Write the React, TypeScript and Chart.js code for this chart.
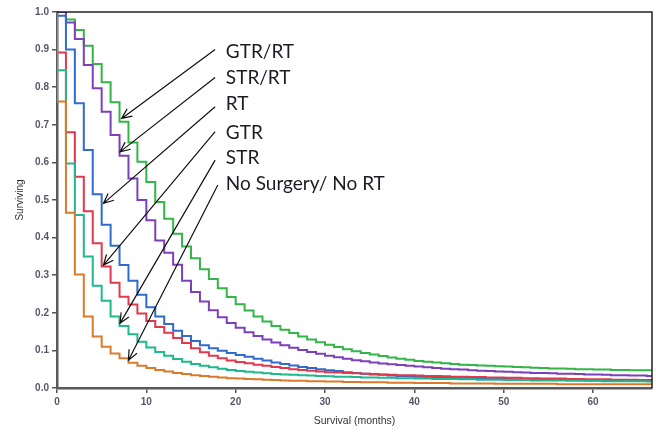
import React, { useEffect, useRef } from "react";
import { Chart, registerables } from "chart.js";
Chart.register(...registerables);

// Survival probability held during each month interval [m, m+1), m = 0..67
const gtrRt = [1.0, 0.98, 0.952, 0.91, 0.862, 0.813, 0.76, 0.708, 0.653, 0.602, 0.548, 0.495, 0.45, 0.41, 0.376, 0.345, 0.316, 0.29, 0.265, 0.242, 0.223, 0.206, 0.19, 0.177, 0.165, 0.155, 0.146, 0.137, 0.129, 0.122, 0.115, 0.109, 0.103, 0.098, 0.093, 0.089, 0.085, 0.081, 0.078, 0.075, 0.072, 0.07, 0.068, 0.066, 0.064, 0.062, 0.061, 0.06, 0.059, 0.058, 0.057, 0.056, 0.055, 0.054, 0.053, 0.052, 0.052, 0.051, 0.05, 0.05, 0.049, 0.049, 0.048, 0.048, 0.047, 0.047, 0.047, 0.047];
const strRt = [1.0, 0.972, 0.928, 0.859, 0.797, 0.735, 0.673, 0.618, 0.557, 0.5, 0.446, 0.392, 0.36, 0.328, 0.285, 0.255, 0.23, 0.207, 0.188, 0.173, 0.16, 0.148, 0.138, 0.129, 0.121, 0.114, 0.107, 0.101, 0.096, 0.091, 0.086, 0.082, 0.078, 0.074, 0.071, 0.068, 0.065, 0.063, 0.061, 0.059, 0.057, 0.055, 0.053, 0.051, 0.05, 0.049, 0.047, 0.046, 0.045, 0.044, 0.043, 0.042, 0.041, 0.04, 0.04, 0.039, 0.038, 0.038, 0.037, 0.036, 0.036, 0.035, 0.034, 0.034, 0.033, 0.033, 0.032, 0.032];
const rt = [0.99, 0.9, 0.757, 0.633, 0.515, 0.434, 0.378, 0.327, 0.285, 0.248, 0.215, 0.19, 0.17, 0.152, 0.138, 0.125, 0.114, 0.106, 0.099, 0.093, 0.088, 0.083, 0.078, 0.073, 0.068, 0.064, 0.06, 0.056, 0.053, 0.05, 0.047, 0.045, 0.042, 0.04, 0.038, 0.036, 0.035, 0.033, 0.032, 0.031, 0.03, 0.029, 0.028, 0.028, 0.027, 0.026, 0.026, 0.025, 0.025, 0.024, 0.024, 0.023, 0.023, 0.022, 0.022, 0.022, 0.021, 0.021, 0.021, 0.02, 0.02, 0.02, 0.02, 0.019, 0.019, 0.019, 0.019, 0.019];
const gtr = [0.892, 0.68, 0.562, 0.47, 0.385, 0.323, 0.28, 0.243, 0.222, 0.198, 0.178, 0.162, 0.147, 0.133, 0.12, 0.106, 0.095, 0.086, 0.079, 0.073, 0.069, 0.066, 0.062, 0.059, 0.056, 0.053, 0.05, 0.048, 0.046, 0.044, 0.042, 0.041, 0.04, 0.039, 0.038, 0.037, 0.036, 0.035, 0.034, 0.034, 0.033, 0.032, 0.032, 0.031, 0.03, 0.03, 0.029, 0.029, 0.028, 0.028, 0.027, 0.027, 0.026, 0.026, 0.025, 0.025, 0.025, 0.024, 0.024, 0.023, 0.023, 0.023, 0.022, 0.022, 0.022, 0.021, 0.021, 0.021];
const str = [0.845, 0.597, 0.46, 0.35, 0.272, 0.232, 0.19, 0.165, 0.143, 0.123, 0.108, 0.096, 0.086, 0.077, 0.07, 0.064, 0.059, 0.055, 0.051, 0.048, 0.045, 0.043, 0.041, 0.039, 0.037, 0.036, 0.035, 0.034, 0.033, 0.032, 0.031, 0.03, 0.03, 0.029, 0.028, 0.028, 0.027, 0.027, 0.026, 0.026, 0.025, 0.025, 0.024, 0.024, 0.024, 0.023, 0.023, 0.022, 0.022, 0.022, 0.021, 0.021, 0.021, 0.02, 0.02, 0.02, 0.02, 0.019, 0.019, 0.019, 0.019, 0.018, 0.018, 0.018, 0.018, 0.018, 0.017, 0.017];
const noSurgeryNoRt = [0.762, 0.466, 0.302, 0.19, 0.137, 0.11, 0.092, 0.079, 0.067, 0.059, 0.053, 0.048, 0.044, 0.04, 0.037, 0.034, 0.032, 0.03, 0.028, 0.026, 0.025, 0.024, 0.023, 0.022, 0.021, 0.02, 0.019, 0.019, 0.018, 0.018, 0.017, 0.017, 0.016, 0.016, 0.015, 0.015, 0.015, 0.014, 0.014, 0.014, 0.013, 0.013, 0.013, 0.013, 0.012, 0.012, 0.012, 0.012, 0.012, 0.011, 0.011, 0.011, 0.011, 0.011, 0.011, 0.011, 0.01, 0.01, 0.01, 0.01, 0.01, 0.01, 0.01, 0.01, 0.01, 0.01, 0.01, 0.01];

const seriesNames = ["No Surgery/ No RT", "STR", "GTR", "RT", "STR/RT", "GTR/RT"];
const seriesValues = [noSurgeryNoRt, str, gtr, rt, strRt, gtrRt];
const seriesColors = ["#dc7a2c", "#1fb98b", "#e2384d", "#2f6ccd", "#7d40bb", "#33b548"];

const xTicks = [0, 10, 20, 30, 40, 50, 60];
const yTicks = [0, 0.1, 0.2, 0.3, 0.4, 0.5, 0.6, 0.7, 0.8, 0.9, 1.0];
const xMax = 66.6;

// Annotation labels with arrows (data coordinates)
const annLabels = ["GTR/RT", "STR/RT", "RT", "GTR", "STR", "No Surgery/ No RT"];
const annLabelY = [0.895, 0.827, 0.759, 0.682, 0.614, 0.546];
const annLabelX = 18.9;
const arrowFromX = [17.7, 17.7, 17.7, 17.7, 17.7, 18.0];
const arrowFromY = [0.9, 0.826, 0.748, 0.682, 0.606, 0.54];
const arrowToX = [7.24, 7.05, 5.2, 5.2, 7.05, 8.0];
const arrowToY = [0.717, 0.628, 0.491, 0.327, 0.172, 0.074];

const overlayPlugin = {
  id: "overlay",
  afterDatasetsDraw(chart: any) {
    const { ctx, chartArea, scales } = chart;
    const xs = scales.x;
    const ys = scales.y;
    ctx.save();
    // frame: top and right
    ctx.strokeStyle = "#222";
    ctx.lineWidth = 1.5;
    ctx.beginPath();
    ctx.moveTo(chartArea.left, chartArea.top);
    ctx.lineTo(chartArea.right, chartArea.top);
    ctx.lineTo(chartArea.right, chartArea.bottom);
    ctx.stroke();

    // arrows
    ctx.strokeStyle = "#111";
    ctx.lineWidth = 1.2;
    for (let i = 0; i < annLabels.length; i++) {
      const x1 = xs.getPixelForValue(arrowFromX[i]);
      const y1 = ys.getPixelForValue(arrowFromY[i]);
      const x2 = xs.getPixelForValue(arrowToX[i]);
      const y2 = ys.getPixelForValue(arrowToY[i]);
      ctx.beginPath();
      ctx.moveTo(x1, y1);
      ctx.lineTo(x2, y2);
      const ang = Math.atan2(y2 - y1, x2 - x1);
      const len = 11;
      const spread = 0.42;
      ctx.moveTo(x2 - len * Math.cos(ang - spread), y2 - len * Math.sin(ang - spread));
      ctx.lineTo(x2, y2);
      ctx.lineTo(x2 - len * Math.cos(ang + spread), y2 - len * Math.sin(ang + spread));
      ctx.stroke();
    }
    // labels
    ctx.fillStyle = "#1c1c24";
    ctx.font = "19px Lato, 'Open Sans', sans-serif";
    ctx.textAlign = "left";
    ctx.textBaseline = "alphabetic";
    for (let i = 0; i < annLabels.length; i++) {
      const x = xs.getPixelForValue(annLabelX);
      const y = ys.getPixelForValue(annLabelY[i]);
      ctx.fillText(annLabels[i], x, y + 7);
    }
    ctx.restore();
  },
};

export default function App() {
  const ref = useRef<HTMLCanvasElement>(null);
  useEffect(() => {
    document.body.style.margin = "0";
    const canvas = ref.current!;
    const datasets = seriesValues.map((vals, si) => ({
      label: seriesNames[si],
      data: [{ x: 0, y: 1 }, ...vals.map((v, m) => ({ x: m, y: v }))],
      borderColor: seriesColors[si],
      backgroundColor: seriesColors[si],
      borderWidth: 2,
      stepped: true,
      pointRadius: 0,
      fill: false,
    }));
    const tickFont = { family: "Arial, 'Liberation Sans', sans-serif", size: 10, weight: "bold" as const };
    const chart = new Chart(canvas, {
      type: "line",
      data: { datasets } as any,
      options: {
        responsive: false,
        animation: false,
        layout: { padding: { top: 12, right: 4, left: 0, bottom: 0 } },
        plugins: { legend: { display: false }, tooltip: { enabled: false } },
        scales: {
          x: {
            type: "linear",
            min: 0,
            max: xMax,
            afterFit: (s: any) => {
              s.height = 44;
            },
            afterBuildTicks: (s: any) => {
              s.ticks = xTicks.map((v) => ({ value: v }));
            },
            ticks: { font: tickFont, color: "#545868", padding: 3, maxRotation: 0, callback: (v: any) => String(v) },
            grid: { drawOnChartArea: false, drawTicks: true, tickLength: 5, color: "#555", lineWidth: 1.5 },
            border: { display: true, color: "#5a5a5a", width: 2.5 },
            title: {
              display: true,
              text: "Survival (months)",
              font: { family: "Arial, 'Liberation Sans', sans-serif", size: 10.5 },
              color: "#333",
              padding: { top: 0, bottom: 5 },
            },
          },
          y: {
            type: "linear",
            min: 0,
            max: 1,
            afterFit: (s: any) => {
              s.width = 57;
            },
            afterBuildTicks: (s: any) => {
              s.ticks = yTicks.map((v) => ({ value: v }));
            },
            ticks: { font: tickFont, color: "#545868", padding: 3, callback: (v: any) => Number(v).toFixed(1) },
            grid: { drawOnChartArea: false, drawTicks: true, tickLength: 5, color: "#555", lineWidth: 1.5 },
            border: { display: true, color: "#5a5a5a", width: 2.5 },
            title: {
              display: true,
              text: "Surviving",
              font: { family: "Arial, 'Liberation Sans', sans-serif", size: 10 },
              color: "#333",
              padding: { top: 14, bottom: 0 },
            },
          },
        },
      } as any,
      plugins: [overlayPlugin],
    });
    return () => chart.destroy();
  }, []);
  return (
    <div style={{ position: "absolute", left: 0, top: 0, width: 656, height: 432, background: "#fff" }}>
      <canvas ref={ref} width={656} height={432} style={{ display: "block" }} />
    </div>
  );
}
